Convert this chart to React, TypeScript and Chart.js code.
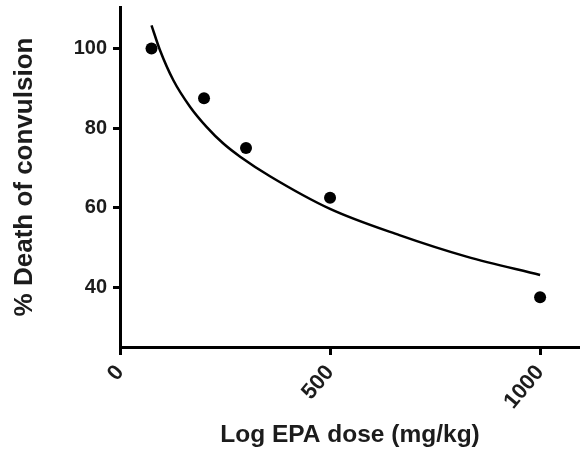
import React, { useEffect, useRef } from 'react';
import { Chart, registerables } from 'chart.js';

Chart.register(...registerables);

// Observed data points
const doseX = [75, 200, 300, 500, 1000];
const deathY = [100, 87.5, 75, 62.5, 37.5];

// Fitted curve
const fitX = [75, 95, 127, 167, 206, 246, 286, 357, 500, 665, 825, 1000];
const fitY = [105.8, 99.6, 92.0, 85.3, 80.3, 76.1, 72.8, 67.9, 59.7, 53.1, 47.7, 43.1];

// Tick labels
const xTicks = [0, 500, 1000];
const yTicks = [40, 60, 80, 100];

const xTitle = 'Log EPA dose (mg/kg)';
const yTitle = '% Death of convulsion';

const FONT = '"Liberation Sans", Arial, sans-serif';
const TEXT = '#1c1c1c';

export default function App() {
  const ref = useRef<HTMLCanvasElement | null>(null);

  useEffect(() => {
    if (!ref.current) return;
    const chart = new Chart(ref.current, {
      type: 'scatter',
      data: {
        datasets: [
          {
            label: 'fit',
            data: fitX.map((x, i) => ({ x, y: fitY[i] })),
            showLine: true,
            borderColor: '#000',
            borderWidth: 2.5,
            pointRadius: 0,
            cubicInterpolationMode: 'monotone',
            fill: false,
            order: 2,
          },
          {
            label: 'data',
            data: doseX.map((x, i) => ({ x, y: deathY[i] })),
            showLine: false,
            backgroundColor: '#000',
            borderColor: '#000',
            pointRadius: 6,
            pointBorderWidth: 0,
            order: 1,
          },
        ],
      },
      options: {
        responsive: false,
        animation: false,
        layout: { autoPadding: false, padding: { top: 7, right: 0, bottom: 0, left: 0 } },
        plugins: { legend: { display: false }, tooltip: { enabled: false } },
        scales: {
          x: {
            type: 'linear',
            min: 0,
            max: 1095,
            afterBuildTicks: (s: any) => {
              s.ticks = xTicks.map((v) => ({ value: v }));
            },
            afterFit: (s: any) => {
              s.height = 106;
              s.paddingLeft = 0;
              s.paddingRight = 0;
            },
            ticks: {
              autoSkip: false,
              minRotation: 50,
              maxRotation: 50,
              padding: 5,
              color: TEXT,
              font: { family: FONT, size: 22, weight: 'bold' },
              callback: (v: any) => String(v),
            },
            grid: {
              display: true,
              drawOnChartArea: false,
              drawTicks: true,
              tickLength: 8,
              tickWidth: 3,
              tickColor: '#000',
            },
            border: { display: true, color: '#000', width: 3 },
            title: {
              display: true,
              text: xTitle,
              color: TEXT,
              font: { family: FONT, size: 24.5, weight: 'bold' },
              padding: { top: 0, bottom: 3 },
            },
          },
          y: {
            type: 'linear',
            min: 25,
            max: 110.4,
            afterBuildTicks: (s: any) => {
              s.ticks = yTicks.map((v) => ({ value: v }));
            },
            afterFit: (s: any) => {
              s.width = 120;
              s.paddingTop = 0;
              s.paddingBottom = 0;
            },
            ticks: {
              padding: 6,
              color: TEXT,
              font: { family: FONT, size: 20, weight: 'bold' },
              callback: (v: any) => String(v),
            },
            grid: {
              display: true,
              drawOnChartArea: false,
              drawTicks: true,
              tickLength: 7,
              tickWidth: 3,
              tickColor: '#000',
            },
            border: { display: true, color: '#000', width: 3 },
            title: {
              display: true,
              text: yTitle,
              color: TEXT,
              font: { family: FONT, size: 26, weight: 'bold' },
              padding: { top: 9, bottom: 0 },
            },
          },
        },
      },
    } as any);
    return () => chart.destroy();
  }, []);

  return (
    <div style={{ position: 'absolute', left: 0, top: 0, width: 580, height: 453, background: '#fff' }}>
      <canvas ref={ref} width={580} height={453} style={{ display: 'block' }} />
    </div>
  );
}
